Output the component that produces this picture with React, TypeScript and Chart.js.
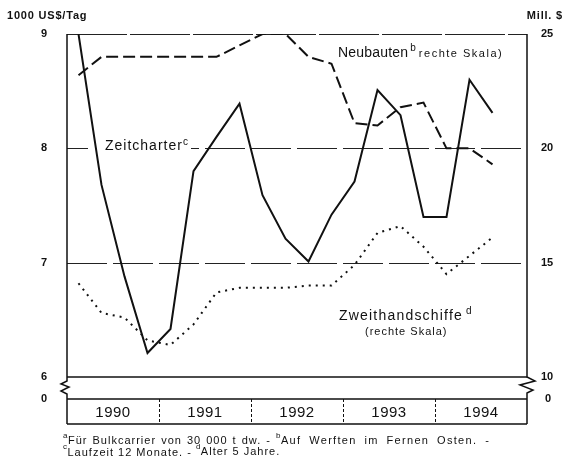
import React, { useEffect, useRef } from "react";
import { Chart, registerables } from "chart.js";

Chart.register(...registerables);

const YEARS = ["1990", "1991", "1992", "1993", "1994"];
const QUARTERS = YEARS.flatMap((y) => ["Q1", "Q2", "Q3", "Q4"].map((q) => `${y} ${q}`));

// 1000 US$/Tag (left scale)
const ZEITCHARTER = [9.0, 7.68, 6.88, 6.21, 6.42, 7.8, 8.1, 8.39, 7.59, 7.21, 7.01, 7.42, 7.71, 8.51, 8.29, 7.4, 7.4, 8.6, 8.31, null];
// Mill. $ (right scale)
const NEUBAUTEN = [23.2, 24.0, 24.0, 24.0, 24.0, 24.0, 24.0, 24.5, 25.0, 25.0, 24.0, 23.7, 21.1, 21.0, 21.8, 22.0, 20.0, 20.0, 19.3, null];
const ZWEITHAND = [14.1, 12.8, 12.6, 11.6, 11.4, 12.3, 13.7, 13.9, 13.9, 13.9, 14.0, 14.0, 14.9, 16.3, 16.6, 15.7, 14.5, 15.3, 16.1, null];

const LEFT_TICKS = [6, 7, 8, 9];
const RIGHT_TICKS = [10, 15, 20, 25];
const GRID_LEFT = [7, 8];

const FONT = "'Liberation Sans', Arial, sans-serif";

type Part = { t: string; size: number; dy?: number; bold?: boolean };

function drawRich(ctx: CanvasRenderingContext2D, parts: Part[], x: number, y: number, spacing = 0, wordSpacing = 0) {
  let cx = x;
  ctx.textAlign = "left";
  ctx.textBaseline = "middle";
  for (const p of parts) {
    ctx.font = `${p.bold ? "bold " : ""}${p.size}px ${FONT}`;
    (ctx as any).letterSpacing = `${spacing}px`;
    (ctx as any).wordSpacing = `${wordSpacing}px`;
    ctx.fillText(p.t, cx, y + (p.dy || 0));
    cx += ctx.measureText(p.t).width;
  }
  (ctx as any).letterSpacing = "0px";
  (ctx as any).wordSpacing = "0px";
  return cx;
}

const overlay = {
  id: "overlay",
  beforeDatasetsDraw(chart: any) {
    const { ctx, chartArea: a, scales } = chart;
    const y = scales.y;
    ctx.save();
    ctx.strokeStyle = "#222";
    ctx.lineWidth = 1;
    ctx.setLineDash([40, 6]);
    for (const v of GRID_LEFT) {
      const py = Math.round(y.getPixelForValue(v)) + 0.5;
      ctx.beginPath();
      ctx.moveTo(a.left, py);
      ctx.lineTo(a.right, py);
      ctx.stroke();
    }
    // top border (thin, slightly broken)
    ctx.setLineDash([60, 3]);
    ctx.beginPath();
    ctx.moveTo(a.left, a.top + 0.5);
    ctx.lineTo(a.right, a.top + 0.5);
    ctx.stroke();
    ctx.setLineDash([]);

    // white-out behind Zeitcharter label
    ctx.fillStyle = "#fff";
    ctx.fillRect(a.left + 21, a.top + 104, 103, 18);

    ctx.fillStyle = "#111";
    // Zeitcharter label
    drawRich(ctx, [
      { t: "Zeitcharter", size: 14 },
      { t: "c", size: 10, dy: -4 },
    ], a.left + 38, a.top + 112, 1);
    // Neubauten label
    let ex = drawRich(ctx, [
      { t: "Neubauten", size: 14 },
    ], a.left + 271, a.top + 19, 0.2);
    ex = drawRich(ctx, [{ t: "b", size: 10, dy: -5 }], ex + 2, a.top + 19, 0);
    drawRich(ctx, [{ t: "rechte Skala)", size: 11 }], ex + 3, a.top + 20, 1.5);
    // Zweithandschiffe label
    ex = drawRich(ctx, [{ t: "Zweithandschiffe", size: 14 }], a.left + 272, a.top + 282, 1.2);
    drawRich(ctx, [{ t: "d", size: 10, dy: -5 }], ex + 3, a.top + 282, 0);
    drawRich(ctx, [{ t: "(rechte Skala)", size: 11 }], a.left + 298, a.top + 298, 1);
    ctx.restore();
  },
  afterDraw(chart: any) {
    const { ctx, chartArea: a, scales } = chart;
    const x = scales.x;
    const y = scales.y;
    const y1 = scales.y1;
    const L = a.left;
    const R = a.right;
    const B = a.bottom;
    const bandTop = B + 22;
    const bandBot = B + 47;
    ctx.save();
    ctx.strokeStyle = "#111";
    ctx.lineWidth = 1.5;
    ctx.setLineDash([]);
    ctx.lineJoin = "miter";
    // left axis with break
    ctx.beginPath();
    ctx.moveTo(L, a.top);
    ctx.lineTo(L, B + 4);
    ctx.lineTo(L - 6, B + 7);
    ctx.lineTo(L + 2, B + 10);
    ctx.lineTo(L - 6, B + 14);
    ctx.lineTo(L, B + 17);
    ctx.lineTo(L, bandBot);
    ctx.stroke();
    // right axis with break
    ctx.beginPath();
    ctx.moveTo(R, a.top);
    ctx.lineTo(R, B);
    ctx.lineTo(R + 8, B + 4);
    ctx.lineTo(R - 7, B + 8);
    ctx.lineTo(R + 6, B + 13);
    ctx.lineTo(R, B + 16);
    ctx.lineTo(R, bandBot);
    ctx.stroke();
    // bottom line of plot
    ctx.beginPath();
    ctx.moveTo(L, B);
    ctx.lineTo(R, B);
    ctx.stroke();
    // year band
    ctx.beginPath();
    ctx.moveTo(L, bandTop);
    ctx.lineTo(R, bandTop);
    ctx.moveTo(L, bandBot);
    ctx.lineTo(R, bandBot);
    ctx.stroke();
    const step = x.getPixelForValue(1) - x.getPixelForValue(0);
    ctx.lineWidth = 1;
    ctx.setLineDash([3, 2]);
    for (let k = 1; k < YEARS.length; k++) {
      const bx = Math.round(x.getPixelForValue(k * 4) - step / 2) + 0.5;
      ctx.beginPath();
      ctx.moveTo(bx, bandTop);
      ctx.lineTo(bx, bandBot);
      ctx.stroke();
    }
    ctx.setLineDash([]);
    ctx.fillStyle = "#111";
    ctx.textAlign = "center";
    ctx.textBaseline = "middle";
    ctx.font = `15px ${FONT}`;
    (ctx as any).letterSpacing = "0.5px";
    YEARS.forEach((yr, k) => {
      const cx = (x.getPixelForValue(k * 4) + x.getPixelForValue(k * 4 + 3)) / 2;
      ctx.fillText(yr, cx, (bandTop + bandBot) / 2 + 1);
    });
    (ctx as any).letterSpacing = "0px";

    // tick labels
    ctx.font = `bold 11px ${FONT}`;
    ctx.textAlign = "right";
    for (const v of LEFT_TICKS) ctx.fillText(String(v), L - 20, y.getPixelForValue(v));
    ctx.fillText("0", L - 20, bandTop);
    ctx.textAlign = "left";
    for (const v of RIGHT_TICKS) ctx.fillText(String(v), R + 14, y1.getPixelForValue(v));
    ctx.fillText("0", R + 18, bandTop);

    // axis titles
    (ctx as any).letterSpacing = "0.8px";
    ctx.textAlign = "left";
    ctx.fillText("1000 US$/Tag", 7, 16);
    ctx.textAlign = "right";
    ctx.fillText("Mill. $", 563, 16);
    (ctx as any).letterSpacing = "0px";

    // footnotes
    ctx.fillStyle = "#111";
    let ex = drawRich(ctx, [{ t: "a", size: 8, dy: -4 }], 63, 440, 0.5);
    ex = drawRich(ctx, [{ t: "Für Bulkcarrier von 30 000 t dw. - ", size: 11 }], ex, 441, 1, 1);
    ex = drawRich(ctx, [{ t: "b", size: 8, dy: -4 }], ex, 440, 0.5);
    drawRich(ctx, [{ t: "Auf Werften im Fernen Osten. -", size: 11 }], ex, 441, 1.3, 3.5);
    ex = drawRich(ctx, [{ t: "c", size: 8, dy: -4 }], 63, 451, 0.5);
    ex = drawRich(ctx, [{ t: "Laufzeit 12 Monate. - ", size: 11 }], ex, 453, 1);
    ex = drawRich(ctx, [{ t: "d", size: 8, dy: -4 }], ex, 451, 0.5);
    drawRich(ctx, [{ t: "Alter 5 Jahre.", size: 11 }], ex, 452, 1);
    ctx.restore();
  },
};

export default function App() {
  const ref = useRef<HTMLCanvasElement | null>(null);
  useEffect(() => {
    document.body.style.margin = "0";
    const canvas = ref.current;
    if (!canvas) return;
    const chart = new Chart(canvas, {
      type: "line",
      data: {
        labels: QUARTERS,
        datasets: [
          {
            label: "Zeitcharter",
            data: ZEITCHARTER,
            yAxisID: "y",
            borderColor: "#111",
            borderWidth: 2,
            pointRadius: 0,
            tension: 0,
            fill: false,
          },
          {
            label: "Neubauten",
            data: NEUBAUTEN,
            yAxisID: "y1",
            borderColor: "#111",
            borderWidth: 2,
            borderDash: [12, 5],
            pointRadius: 0,
            tension: 0,
            fill: false,
          },
          {
            label: "Zweithandschiffe",
            data: ZWEITHAND,
            yAxisID: "y1",
            borderColor: "#111",
            borderWidth: 2,
            borderDash: [2, 5],
            pointRadius: 0,
            tension: 0,
            fill: false,
          },
        ],
      },
      options: {
        responsive: false,
        animation: false,
        devicePixelRatio: 1,
        layout: { padding: { left: 67, right: 37, top: 34, bottom: 81 } },
        plugins: { legend: { display: false }, tooltip: { enabled: false } },
        scales: {
          x: { type: "category", offset: true, display: false },
          y: { type: "linear", min: 6, max: 9, display: false },
          y1: { type: "linear", min: 10, max: 25, display: false, position: "right" },
        },
      },
      plugins: [overlay],
    });
    return () => chart.destroy();
  }, []);
  return (
    <div style={{ width: 564, height: 458, background: "#fff" }}>
      <canvas ref={ref} width={564} height={458} style={{ display: "block" }} />
    </div>
  );
}
